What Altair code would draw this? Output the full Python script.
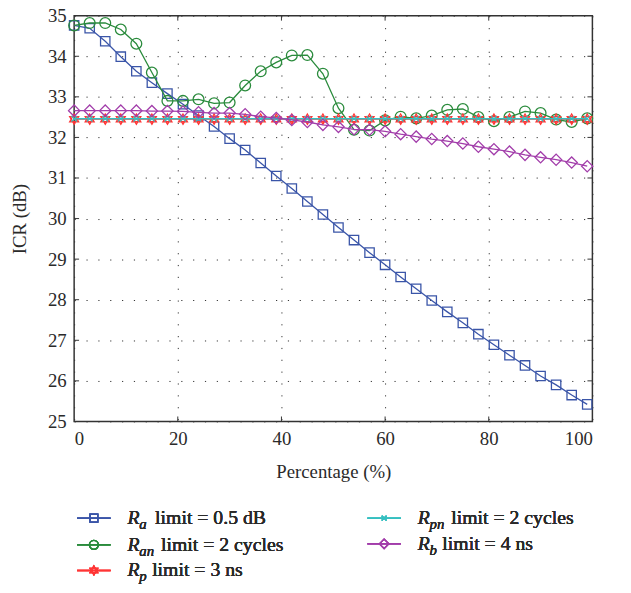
import altair as alt
import pandas as pd

# ---- data ----
pct = [0, 3, 6, 9, 12, 15, 18, 21, 24, 27, 30, 33, 36, 39, 42, 45, 48, 51,
       54, 57, 60, 63, 66, 69, 72, 75, 78, 81, 84, 87, 90, 93, 96, 99]

ra = [34.76, 34.69, 34.37, 33.99, 33.63, 33.35, 33.08, 32.82, 32.54, 32.27, 31.97, 31.69,
      31.37, 31.05, 30.74, 30.42, 30.10, 29.78, 29.47, 29.16, 28.86, 28.56, 28.27, 27.98,
      27.70, 27.43, 27.15, 26.89, 26.63, 26.38, 26.12, 25.90, 25.65, 25.42]
ran = [34.76, 34.82, 34.82, 34.66, 34.31, 33.60, 32.90, 32.90, 32.94, 32.84, 32.86, 33.28,
       33.63, 33.85, 34.02, 34.03, 33.57, 32.72, 32.19, 32.17, 32.42, 32.51, 32.47, 32.54,
       32.68, 32.70, 32.50, 32.40, 32.50, 32.64, 32.60, 32.44, 32.38, 32.47]
rp = [32.45, 32.45, 32.45, 32.45, 32.45, 32.45, 32.45, 32.45, 32.45, 32.45, 32.45, 32.45,
      32.45, 32.45, 32.45, 32.45, 32.45, 32.45, 32.45, 32.45, 32.45, 32.45, 32.45, 32.45,
      32.45, 32.45, 32.45, 32.45, 32.45, 32.45, 32.45, 32.45, 32.45, 32.45]
rpn = [32.46, 32.46, 32.46, 32.46, 32.46, 32.46, 32.46, 32.46, 32.46, 32.46, 32.46, 32.46,
       32.46, 32.46, 32.46, 32.46, 32.46, 32.46, 32.46, 32.46, 32.46, 32.46, 32.46, 32.46,
       32.46, 32.46, 32.46, 32.46, 32.46, 32.46, 32.46, 32.46, 32.46, 32.46]
rb = [32.66, 32.66, 32.66, 32.66, 32.66, 32.65, 32.65, 32.64, 32.62, 32.60, 32.60, 32.57,
      32.51, 32.48, 32.43, 32.38, 32.31, 32.26, 32.20, 32.19, 32.15, 32.08, 32.02, 31.96,
      31.91, 31.85, 31.77, 31.71, 31.65, 31.57, 31.51, 31.45, 31.38, 31.29]

series_keys = ["Ra", "Ran", "Rp", "Rpn", "Rb"]
series_vals = [ra, ran, rp, rpn, rb]
subs = ["a", "an", "p", "pn", "b"]
rests = ["limit = 0.5 dB", "limit = 2 cycles", "limit = 3 ns", "limit = 2 cycles", "limit = 4 ns"]

x_ticks = [0, 20, 40, 60, 80, 100]
y_ticks = [25, 26, 27, 28, 29, 30, 31, 32, 33, 34, 35]

# ---- styles ----
colors = ["#3A55A8", "#2A8B3C", "#FF3535", "#35BFC0", "#A23DAA"]
hexagram = "M0,-1L0.866,0.5L-0.866,0.5Z M0,1L0.866,-0.5L-0.866,-0.5Z"
xmark = "M-0.75,-0.75L0.75,0.75M-0.75,0.75L0.75,-0.75"
shapes = ["square", "circle", hexagram, xmark, "diamond"]
sizes = [90, 120, 110, 60, 130]

W, H = 525, 411
FONT = "Liberation Serif"
TXT = "#2a2a2a"

xscale = alt.Scale(domain=[0, 100], nice=False, zero=False)
yscale = alt.Scale(domain=[25, 35], nice=False, zero=False)
xaxis = alt.Axis(values=x_ticks, title="Percentage (%)", grid=True, ticks=False, domain=False,
                 gridDash=[1.2, 10.8], gridColor="#333", gridWidth=1, labelPadding=8,
                 titlePadding=15)
yaxis = alt.Axis(values=y_ticks, title="ICR (dB)", grid=True, ticks=False, domain=False,
                 gridDash=[1.2, 10.8], gridColor="#333", gridWidth=1, labelPadding=8,
                 titlePadding=18)

layers = []
for key, vals, col, shp, sz in zip(series_keys, series_vals, colors, shapes, sizes):
    df = pd.DataFrame({"x": pct, "y": vals})
    base = alt.Chart(df).encode(
        x=alt.X("x:Q", scale=xscale, axis=xaxis),
        y=alt.Y("y:Q", scale=yscale, axis=yaxis),
    )
    layers.append(base.mark_line(color=col, strokeWidth=1.3))
    layers.append(base.mark_point(shape=shp, size=sz, color=col, filled=False, strokeWidth=1.3,
                                  opacity=1))

# inner ticks
xt = pd.DataFrame({"x": [20, 40, 60, 80]})
yt = pd.DataFrame({"y": [26, 27, 28, 29, 30, 31, 32, 33, 34]})
tick_col = "#333"
layers.append(alt.Chart(xt).mark_rule(color=tick_col, strokeWidth=1).encode(
    x=alt.X("x:Q", scale=xscale, axis=xaxis), y=alt.value(H), y2=alt.value(H - 5)))
layers.append(alt.Chart(xt).mark_rule(color=tick_col, strokeWidth=1).encode(
    x=alt.X("x:Q", scale=xscale, axis=xaxis), y=alt.value(0), y2=alt.value(5)))
layers.append(alt.Chart(yt).mark_rule(color=tick_col, strokeWidth=1).encode(
    y=alt.Y("y:Q", scale=yscale, axis=yaxis), x=alt.value(0), x2=alt.value(5)))
layers.append(alt.Chart(yt).mark_rule(color=tick_col, strokeWidth=1).encode(
    y=alt.Y("y:Q", scale=yscale, axis=yaxis), x=alt.value(W), x2=alt.value(W - 5)))

# legend (layout, in pixels relative to plot origin)
leg_pos = [(3, 509), (3, 536), (3, 562), (297, 509), (297, 535)]
rest_off = {"a": 28, "an": 34, "p": 25, "pn": 34, "b": 25}
for i, (lx, ly) in enumerate(leg_pos):
    col = colors[i]
    layers.append(alt.Chart(xt).mark_rule(color=col, strokeWidth=1.3).encode(
        x=alt.value(lx), x2=alt.value(lx + 34), y=alt.value(ly)))
    layers.append(alt.Chart(xt).mark_point(shape=shapes[i], size=sizes[i] * 0.7, color=col,
                                           filled=False, strokeWidth=1.3, opacity=1).encode(
        x=alt.value(lx + 17), y=alt.value(ly)))
    rx = lx + 51
    layers.append(alt.Chart(xt).mark_text(text="R", font=FONT, fontSize=20, fontStyle="italic",
                                          align="left", baseline="middle", color=TXT).encode(
        x=alt.value(rx), y=alt.value(ly)))
    layers.append(alt.Chart(xt).mark_text(text=subs[i], font=FONT, fontSize=15, fontStyle="italic",
                                          align="left", baseline="middle", color=TXT).encode(
        x=alt.value(rx + 12), y=alt.value(ly + 6)))
    layers.append(alt.Chart(xt).mark_text(text=rests[i], font=FONT, fontSize=20,
                                          align="left", baseline="middle", color=TXT).encode(
        x=alt.value(rx + rest_off[subs[i]]), y=alt.value(ly)))

chart = alt.layer(*layers).properties(
    width=W, height=H,
    autosize=alt.AutoSizeParams(type="none"),
    padding={"left": 67, "top": 4, "right": 31, "bottom": 170},
).configure_view(
    stroke="#333", strokeWidth=1.5
).configure_axis(
    labelFont=FONT, labelFontSize=19, labelColor=TXT,
    titleFont=FONT, titleFontSize=19, titleFontWeight="normal", titleColor=TXT,
)

chart.save("out.html", embed_options={"renderer": "svg", "actions": False})
